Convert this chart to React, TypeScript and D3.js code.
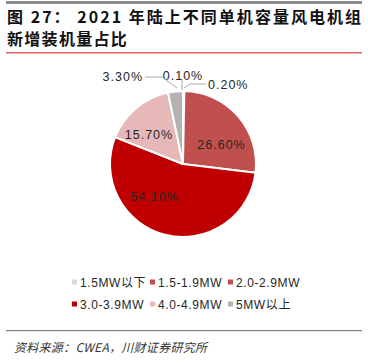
import React from "react";
import * as d3 from "d3";

const categories = ["1.5MW以下", "1.5-1.9MW", "2.0-2.9MW", "3.0-3.9MW", "4.0-4.9MW", "5MW以上"];
const shares = [0.2, 0.1, 26.6, 54.1, 15.7, 3.3];
const colors = ["#d9d9d9", "#c0504d", "#c0504d", "#c00000", "#e6b9b8", "#b3b3b3"];

const titleLine1 = "图 27： 2021 年陆上不同单机容量风电机组";
const titleLine2 = "新增装机量占比";
const sourceText = "资料来源：CWEA，川财证券研究所";

// label styling (placement relative to pie)
const labelStyle: Record<number, any> = {
  0: { mode: "out", pts: [[1, -76], [7, -80], [23, -80]], tx: 25, ty: -80, anchor: "start" },
  1: { mode: "out", pts: [[-1, -74], [-1, -84]], tx: 0, ty: -89, anchor: "middle" },
  2: { mode: "in", nudge: 14.7, r: 43 },
  3: { mode: "in", nudge: 27, r: 43 },
  4: { mode: "in", nudge: -9, r: 45 },
  5: { mode: "out", pts: [[-6, -76], [-21, -87], [-38, -87]], tx: -40, ty: -88, anchor: "end" },
};

export default function App() {
  const W = 368, H = 363;
  const cx = 183, cy = 164, R = 73;
  const data = categories.map((c, i) => ({ c, v: shares[i], i }));
  const pie = d3.pie<any>().sort(null).value((d) => d.v).startAngle(0).endAngle(2 * Math.PI);
  const arcs = pie(data);
  const arc = d3.arc<any>().innerRadius(0).outerRadius(R);
  const fmt = (v: number) => v.toFixed(2) + "%";
  const legendX = d3.scalePoint<number>().domain([0, 1, 2]).range([72, 228]);
  const legendY = d3.scalePoint<number>().domain([0, 1]).range([282, 304]);

  return (
    <svg width={W} height={H} style={{ position: "absolute", left: 0, top: 0, background: "#fff" }}>
      <rect x={6} y={1} width={356} height={3} fill="#8c8c8c" />
      <text x={7} y={23} fontFamily="'Noto Sans CJK SC'" fontWeight="bold" fontSize={16} fill="#111"
        textLength={354} lengthAdjust="spacing">{titleLine1}</text>
      <text x={7} y={45} fontFamily="'Noto Sans CJK SC'" fontWeight="bold" fontSize={16} fill="#111"
        letterSpacing={1.3}>{titleLine2}</text>
      <rect x={6} y={52} width={356} height={1.5} fill="#e06666" />

      <g transform={`translate(${cx},${cy})`}>
        {arcs.map((a, i) => (
          <path key={i} d={arc(a) || ""} fill={colors[i]} stroke="#fff" strokeWidth={2} strokeLinejoin="round" />
        ))}
        {arcs.map((a, i) => {
          const s = labelStyle[i];
          if (s.mode === "in") {
            const ang = (a.startAngle + a.endAngle) / 2 + (s.nudge * Math.PI) / 180;
            const x = Math.sin(ang) * s.r, y = -Math.cos(ang) * s.r;
            return (
              <text key={"l" + i} x={x} y={y + 4.5} textAnchor="middle" fontFamily="'Liberation Sans', 'Noto Sans CJK SC'"
                fontSize={12.5} letterSpacing={1} fill="#262626">{fmt(shares[i])}</text>
            );
          }
          return (
            <g key={"l" + i}>
              <polyline points={s.pts.map((p: number[]) => p.join(",")).join(" ")} fill="none" stroke="#a6a6a6" strokeWidth={1} />
              <text x={s.tx} y={s.ty + 4.5} textAnchor={s.anchor} fontFamily="'Liberation Sans', 'Noto Sans CJK SC'"
                fontSize={12.5} letterSpacing={1} fill="#262626">{fmt(shares[i])}</text>
            </g>
          );
        })}
      </g>

      {categories.map((c, i) => {
        const x = legendX(i % 3)!, y = legendY(Math.floor(i / 3))!;
        return (
          <g key={"lg" + i}>
            <rect x={x} y={y - 2.5} width={5} height={5} fill={colors[i]} />
            <text x={x + 8} y={y + 4.5} fontFamily="'Liberation Sans', 'Noto Sans CJK SC'" fontSize={12}
              letterSpacing={0.6} fill="#262626">{c}</text>
          </g>
        );
      })}

      <rect x={6} y={330} width={356} height={1.2} fill="#7f7f7f" />
      <text x={14} y={352} fontFamily="'Noto Sans CJK SC'" fontStyle="italic" fontSize={12} fill="#333"
        textLength={193} lengthAdjust="spacing">{sourceText}</text>
    </svg>
  );
}
